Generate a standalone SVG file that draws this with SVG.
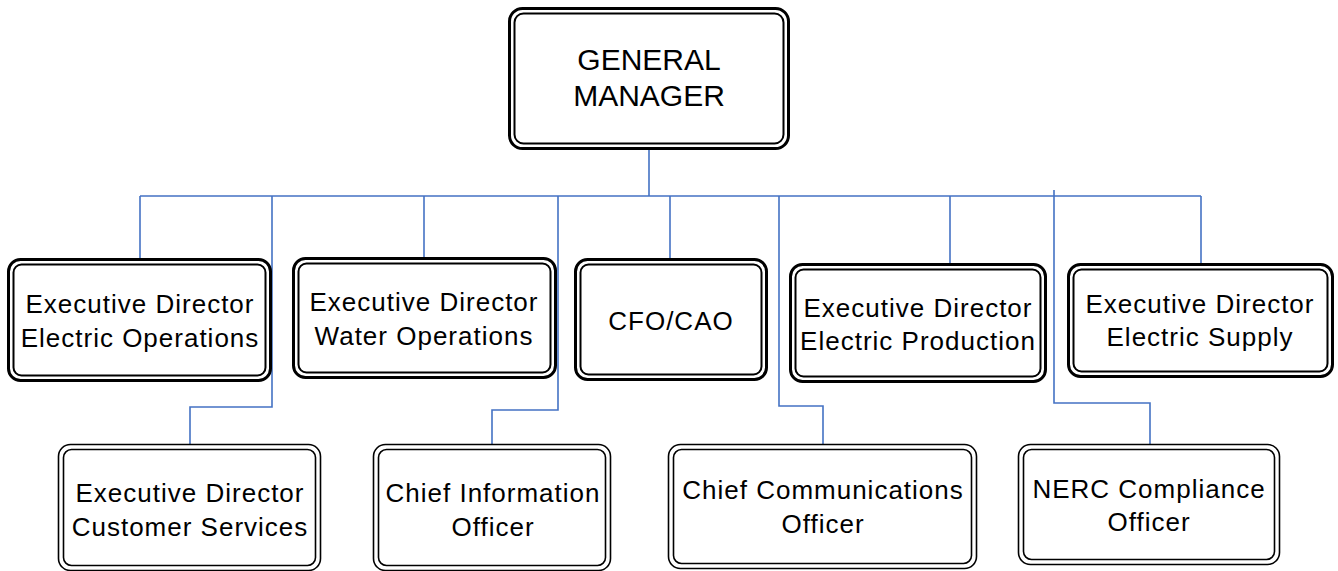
<svg xmlns="http://www.w3.org/2000/svg" width="1338" height="571" viewBox="0 0 1338 571">
<style>
.o{fill:#fff;stroke:#000;stroke-width:3}
.i{fill:none;stroke:#000;stroke-width:2}
.o2{fill:#fff;stroke:#000;stroke-width:1.6}
.i2{fill:none;stroke:#000;stroke-width:1.6}
.t{font-family:"Liberation Sans",Arial,sans-serif;font-size:26px;fill:#000;text-anchor:middle;letter-spacing:1px}
.g{font-family:"Liberation Sans",Arial,sans-serif;font-size:30px;fill:#000;text-anchor:middle}
.c{fill:none;stroke:#4472C4;stroke-width:1.6}
</style>
<g id="connectors">
<path class="c" d="M649 148V196M140 196H1201"/>
<path class="c" d="M140 196V259"/>
<path class="c" d="M272 196V407H190V445"/>
<path class="c" d="M424 196V258"/>
<path class="c" d="M558 196V410H492V444"/>
<path class="c" d="M670 196V259"/>
<path class="c" d="M779 196V406H823V444"/>
<path class="c" d="M950 196V263"/>
<path class="c" d="M1054 190V403H1150V444"/>
<path class="c" d="M1201 196V264"/>
</g>
<g id="gm">
<rect class="o" x="509.5" y="8.5" width="279" height="140" rx="13"/>
<rect class="i" x="514.5" y="13.5" width="269" height="130" rx="9"/>
<text class="g" x="649" y="70">GENERAL</text>
<text class="g" x="649" y="106">MANAGER</text>
</g>
<g id="ed-electric-ops">
<rect class="o" x="8.5" y="259.5" width="262" height="121" rx="12"/>
<rect class="i" x="13.5" y="264.5" width="252" height="111" rx="8"/>
<text class="t" x="140" y="313">Executive Director</text>
<text class="t" x="140" y="347">Electric Operations</text>
</g>
<g id="ed-water-ops">
<rect class="o" x="293.5" y="258.5" width="262" height="119" rx="12"/>
<rect class="i" x="298.5" y="263.5" width="252" height="109" rx="8"/>
<text class="t" x="424" y="311">Executive Director</text>
<text class="t" x="424" y="345">Water Operations</text>
</g>
<g id="cfo">
<rect class="o" x="575.5" y="259.5" width="191" height="120" rx="12"/>
<rect class="i" x="580.5" y="264.5" width="181" height="110" rx="8"/>
<text class="t" x="671" y="330">CFO/CAO</text>
</g>
<g id="ed-electric-production">
<rect class="o" x="790.5" y="264.5" width="255" height="117" rx="12"/>
<rect class="i" x="795.5" y="269.5" width="245" height="107" rx="8"/>
<text class="t" x="918" y="317">Executive Director</text>
<text class="t" x="918" y="350">Electric Production</text>
</g>
<g id="ed-electric-supply">
<rect class="o" x="1068.5" y="264.5" width="264" height="112" rx="12"/>
<rect class="i" x="1073.5" y="269.5" width="254" height="102" rx="8"/>
<text class="t" x="1200" y="313">Executive Director</text>
<text class="t" x="1200" y="346">Electric Supply</text>
</g>
<g id="ed-customer-services">
<rect class="o2" x="58.5" y="444.5" width="262" height="126" rx="12"/>
<rect class="i2" x="63.5" y="449.5" width="252" height="116" rx="8"/>
<text class="t" x="190" y="502">Executive Director</text>
<text class="t" x="190" y="536">Customer Services</text>
</g>
<g id="cio">
<rect class="o2" x="373.5" y="444.5" width="237" height="126" rx="12"/>
<rect class="i2" x="378.5" y="449.5" width="227" height="116" rx="8"/>
<text class="t" x="493" y="502">Chief Information</text>
<text class="t" x="493" y="536">Officer</text>
</g>
<g id="cco">
<rect class="o2" x="668.5" y="444.5" width="308" height="124" rx="12"/>
<rect class="i2" x="673.5" y="449.5" width="298" height="114" rx="8"/>
<text class="t" x="823" y="499">Chief Communications</text>
<text class="t" x="823" y="533">Officer</text>
</g>
<g id="nerc">
<rect class="o2" x="1018.5" y="444.5" width="261" height="120" rx="12"/>
<rect class="i2" x="1023.5" y="449.5" width="251" height="110" rx="8"/>
<text class="t" x="1149" y="498">NERC Compliance</text>
<text class="t" x="1149" y="531">Officer</text>
</g>
</svg>
